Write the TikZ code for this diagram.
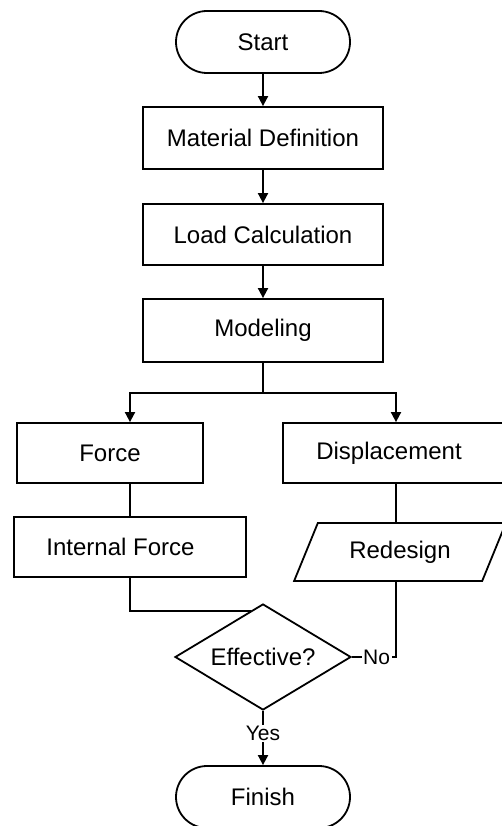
\documentclass[tikz,border=0pt]{standalone}
\usepackage{fontspec}
\setmainfont{Liberation Sans}
\usetikzlibrary{arrows.meta,shapes.geometric,shapes.misc}
\begin{document}
\begin{tikzpicture}[x=1pt,y=-1pt,
  every node/.style={font=\fontsize{24}{28}\selectfont},
  box/.style={draw, line width=1.8pt, rectangle, minimum height=60pt, inner sep=0pt},
  term/.style={draw, line width=1.8pt, rounded rectangle, minimum width=174pt, minimum height=62pt, inner sep=0pt},
  para/.style={draw, line width=1.8pt, trapezium, trapezium stretches=true, trapezium left angle=56.8, trapezium right angle=123.2, minimum width=212pt, minimum height=58pt, inner sep=0pt},
  dec/.style={draw, line width=1.8pt, diamond, aspect=1.66, minimum width=176pt, minimum height=106pt, inner sep=0pt},
  conn/.style={line width=1.8pt},
  arr/.style={conn, -{Triangle[length=10pt,width=10pt]}},
  lbl/.style={fill=white, inner sep=1.5pt, font=\fontsize{21}{24}\selectfont}]
\useasboundingbox (0,0) rectangle (502,826);
\clip (0,0) rectangle (502,826);
\node[term] (start) at (263,42) {Start};
\node[box, minimum width=240pt, minimum height=62pt] (mat) at (263,138) {Material Definition};
\node[box, minimum width=240pt, minimum height=61pt] (load) at (263,234.5) {Load Calculation};
\node[box, minimum width=240pt, minimum height=63pt] (mod) at (263,330.5) {Modeling};
\node[box, minimum width=186pt] (force) at (110,453) {Force};
\node[box, minimum width=226pt] (disp) at (396,453) {\hspace*{-14pt}Displacement};
\node[box, minimum width=232pt] (ifc) at (130,547) {\hspace*{-19pt}Internal Force};
\node[para] (red) at (400,552) {Redesign};
\node[dec] (dia) at (263,657) {Effective?};
\node[term] (fin) at (263,797) {Finish};
\coordinate (br) at (263,393);
\draw[arr] (start) -- (mat);
\draw[arr] (mat) -- (load);
\draw[arr] (load) -- (mod);
\draw[conn] (mod.south) -- (br);
\draw[arr] (br) -| ([xshift=20pt]force.north);
\draw[arr] (br) -| (disp.north);
\draw[conn] ([xshift=20pt]force.south) -- ([xshift=20pt]force.south |- ifc.north);
\draw[conn] (disp.south) -- (disp.south |- red.north);
\draw[conn] (ifc.south) |- (dia.105);
\draw[conn] (dia.east) -| node[lbl, pos=0.28] {No} (disp.south |- red.south);
\draw[arr] (dia.south) -- node[lbl, pos=0.42] {Yes} (fin.north);
\end{tikzpicture}
\end{document}
